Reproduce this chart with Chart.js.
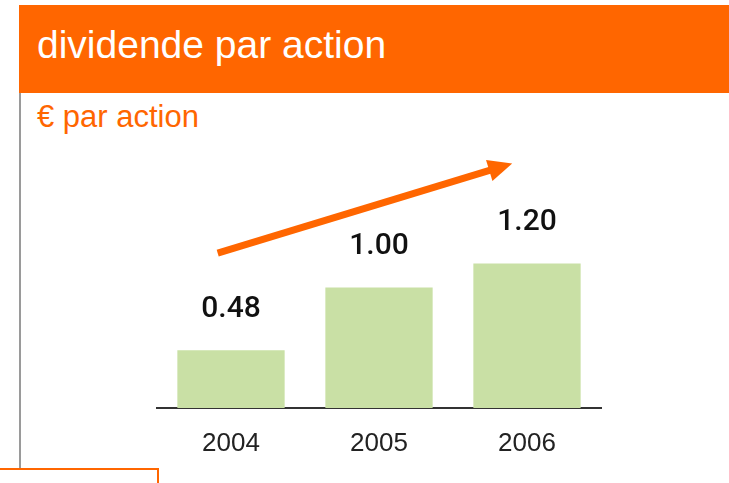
<!DOCTYPE html>
<html>
<head>
<meta charset="utf-8">
<script src="https://cdn.jsdelivr.net/npm/chart.js@4.4.1/dist/chart.umd.min.js"></script>
<style>
  html, body { margin: 0; padding: 0; background: #fff; }
  #wrap { position: relative; width: 729px; height: 483px; overflow: hidden; }
  #myChart { position: absolute; left: 0; top: 0; }
  .header { position: absolute; left: 19px; top: 5px; width: 710px; height: 88px; background: #ff6600; }
  .header span { position: absolute; left: 18px; top: 18px; color: #fff; font: 39px "Liberation Sans", Arial, sans-serif; }
  .sub { position: absolute; left: 37px; top: 99px; color: #ff6600; font: 31px "Liberation Sans", Arial, sans-serif; }
  .vline { position: absolute; left: 19px; top: 93px; width: 2px; height: 377px; background: #9a9a9a; }
  .box { position: absolute; left: -3px; top: 468px; width: 158px; height: 40px; border: 2px solid #ff6600; }
</style>
</head>
<body>
<div id="wrap">
  <div class="header"><span>dividende par action</span></div>
  <div class="sub">€ par action</div>
  <div class="vline"></div>
  <div class="box"></div>
  <canvas id="myChart" width="729" height="483"></canvas>
</div>
<script>
// data
const years = ['2004', '2005', '2006'];
const dividends = [0.48, 1.00, 1.20];
const valueLabels = ['0.48', '1.00', '1.20'];

// trend arrow, in data units: [category index, value]
const arrowFrom = [-0.09, 1.285];
const arrowTo = [1.90, 2.03];

// Plugin to write the values above the bars
const valueLabelPlugin = {
    id: 'valueLabels',
    afterDatasetsDraw(chart) {
        const ctx = chart.ctx;
        const meta = chart.getDatasetMeta(0);
        ctx.save();
        ctx.fillStyle = '#111';
        ctx.font = '500 30px Roboto, "Liberation Sans", Arial, sans-serif';
        ctx.textAlign = 'center';
        ctx.textBaseline = 'middle';
        meta.data.forEach((bar, i) => {
            ctx.fillText(valueLabels[i], bar.x, bar.y - 41);
        });
        ctx.restore();
    }
};

// Plugin to draw the orange trend arrow
const arrowPlugin = {
    id: 'trendArrow',
    afterDraw(chart) {
        const ctx = chart.ctx;
        const x = chart.scales.x;
        const y = chart.scales.y;
        const x1 = x.getPixelForValue(arrowFrom[0]);
        const y1 = y.getPixelForValue(arrowFrom[1]);
        const x2 = x.getPixelForValue(arrowTo[0]);
        const y2 = y.getPixelForValue(arrowTo[1]);
        const ang = Math.atan2(y2 - y1, x2 - x1);
        const headLen = 24;
        const headHalf = 11;
        const bx = x2 - headLen * Math.cos(ang);
        const by = y2 - headLen * Math.sin(ang);
        ctx.save();
        ctx.strokeStyle = '#ff6600';
        ctx.fillStyle = '#ff6600';
        ctx.lineWidth = 7;
        ctx.beginPath();
        ctx.moveTo(x1, y1);
        ctx.lineTo(bx + 2 * Math.cos(ang), by + 2 * Math.sin(ang));
        ctx.stroke();
        ctx.beginPath();
        ctx.moveTo(x2, y2);
        ctx.lineTo(bx + headHalf * Math.sin(ang), by - headHalf * Math.cos(ang));
        ctx.lineTo(bx - headHalf * Math.sin(ang), by + headHalf * Math.cos(ang));
        ctx.closePath();
        ctx.fill();
        ctx.restore();
    }
};

const ctx = document.getElementById('myChart').getContext('2d');
new Chart(ctx, {
    type: 'bar',
    data: {
        labels: years,
        datasets: [{
            data: dividends,
            backgroundColor: '#c9e0a5',
            borderWidth: 0,
            barPercentage: 0.725,
            categoryPercentage: 1.0
        }]
    },
    options: {
        responsive: false,
        animation: false,
        devicePixelRatio: 1,
        layout: {
            padding: { left: 157, right: 128, top: 155, bottom: 0 }
        },
        plugins: {
            legend: { display: false },
            tooltip: { enabled: false }
        },
        scales: {
            x: {
                grid: { display: false, drawTicks: false },
                border: { display: true, color: '#333', width: 2 },
                ticks: {
                    color: '#222',
                    padding: 20,
                    font: { family: '"Liberation Sans", Arial, sans-serif', size: 26 }
                },
                afterFit(scale) { scale.height = 75; }
            },
            y: {
                display: false,
                min: 0,
                max: 2.1
            }
        }
    },
    plugins: [valueLabelPlugin, arrowPlugin]
});
</script>
</body>
</html>
